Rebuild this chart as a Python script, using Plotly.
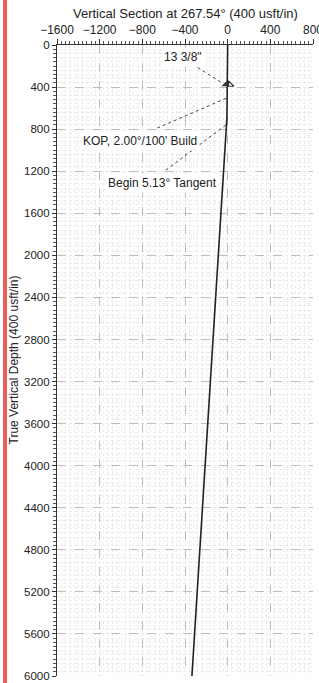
import plotly.graph_objects as go

# Well path (vertical section vs true vertical depth)
tvd = [0, 375, 500, 550, 600, 650, 700, 756, 6000]
vsec = [0, 0, 0, -0.4, -1.7, -4, -7, -11, -335]

x_ticks = [-1600, -1200, -800, -400, 0, 400, 800]
y_ticks = [0, 400, 800, 1200, 1600, 2000, 2400, 2800, 3200, 3600, 4000, 4400, 4800, 5200, 5600, 6000]

casing_label = '13 3/8"'
casing_tvd = 375
casing_vs = 0

kop_label = "KOP, 2.00°/100' Build"
kop_tvd = 500
kop_vs = 0

tan_label = "Begin 5.13° Tangent"
tan_tvd = 756
tan_vs = -11

title_text = "Vertical Section at 267.54° (400 usft/in)"
ytitle_text = "True Vertical Depth (400 usft/in)"

FONT = "Liberation Sans, Arial, sans-serif"

fig = go.Figure()

fig.add_trace(go.Scatter(x=vsec, y=tvd, mode="lines",
                         line=dict(color="#222222", width=1.6),
                         hoverinfo="skip", showlegend=False, cliponaxis=False))

# casing shoe symbols
fig.add_trace(go.Scatter(x=[casing_vs - 25], y=[casing_tvd], mode="markers",
                         marker=dict(symbol="triangle-se", size=6, color="#333333"),
                         showlegend=False, hoverinfo="skip"))
fig.add_trace(go.Scatter(x=[casing_vs + 25], y=[casing_tvd], mode="markers",
                         marker=dict(symbol="triangle-sw-open", size=6, color="#333333",
                                     line=dict(width=1.2, color="#333333")),
                         showlegend=False, hoverinfo="skip"))

# label positions (layout) and dotted leaders
labels = [
    (casing_label, -420, 118, -280, 215, casing_vs - 45, casing_tvd - 10),
    (kop_label, -825, 911, -660, 790, kop_vs, kop_tvd),
    (tan_label, -610, 1309, -580, 1190, tan_vs, tan_tvd),
]
shapes = []
annotations = []
for text, lx, ly, sx, sy, ex, ey in labels:
    shapes.append(dict(type="line", xref="x", yref="y", x0=sx, y0=sy, x1=ex, y1=ey,
                       line=dict(color="#444444", width=1, dash="dot"), layer="above"))
    annotations.append(dict(x=lx, y=ly, xref="x", yref="y", text=text, showarrow=False,
                            font=dict(family=FONT, size=12, color="#222222"),
                            bgcolor="white", borderpad=2))

# red bar on the left edge
shapes.append(dict(type="rect", xref="paper", yref="paper",
                   x0=-0.211, x1=-0.195, y0=-0.02, y1=1.08,
                   fillcolor="#e8625c", line=dict(width=0), layer="above"))

annotations.append(dict(text=title_text, xref="paper", yref="paper", x=0.5, y=1.0,
                        yshift=32, showarrow=False, xanchor="center", yanchor="middle",
                        font=dict(family=FONT, size=13, color="#222222")))
annotations.append(dict(text=ytitle_text, xref="paper", yref="paper", x=0.0, y=0.5,
                        xshift=-44, showarrow=False, xanchor="center", yanchor="middle",
                        textangle=-90,
                        font=dict(family=FONT, size=12, color="#222222")))

fig.update_layout(
    width=319, height=683,
    margin=dict(l=57, r=6, t=45, b=7, autoexpand=False),
    paper_bgcolor="white", plot_bgcolor="white",
    font=dict(family=FONT, size=12, color="#222222"),
    shapes=shapes, annotations=annotations,
    xaxis=dict(side="top", range=[-1600, 800], tickvals=x_ticks, automargin=False,
               ticklabeloverflow="allow",
               showline=True, linecolor="#333333", linewidth=1.2,
               ticks="outside", ticklen=5, tickcolor="#333333",
               showgrid=True, gridcolor="#bdbdbd", griddash="dash", gridwidth=1,
               zeroline=False, tickfont=dict(family=FONT, size=12),
               minor=dict(dtick=40, ticks="outside", ticklen=3, tickcolor="#555555",
                          showgrid=True, gridcolor="#ebebeb", griddash="dot")),
    yaxis=dict(range=[6000, 0], tickvals=y_ticks, automargin=False,
               ticklabeloverflow="allow",
               showline=True, linecolor="#333333", linewidth=1.2,
               ticks="outside", ticklen=4, tickcolor="#333333",
               showgrid=True, gridcolor="#bdbdbd", griddash="dash", gridwidth=1,
               zeroline=False, tickfont=dict(family=FONT, size=11.5),
               minor=dict(dtick=40, ticks="outside", ticklen=3, tickcolor="#555555",
                          showgrid=True, gridcolor="#ebebeb", griddash="dot")),
)

fig.write_html("out.html", config={"displayModeBar": False},
               post_script="document.body.style.margin='0';document.body.style.overflow='hidden';")
